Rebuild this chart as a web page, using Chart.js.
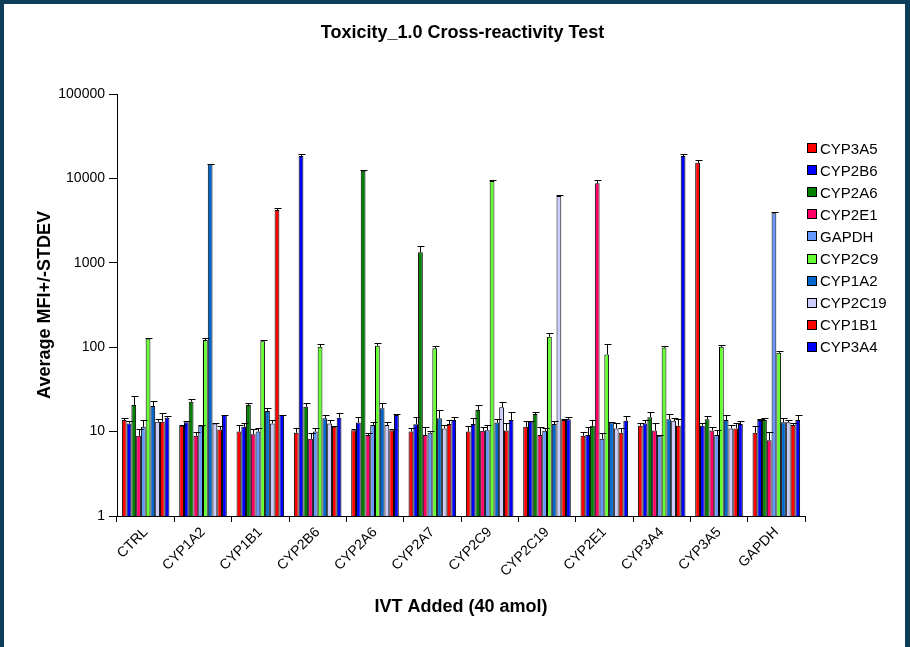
<!DOCTYPE html>
<html>
<head>
<meta charset="utf-8">
<script src="https://cdn.jsdelivr.net/npm/chart.js@4.4.1/dist/chart.umd.min.js"></script>
<style>
  body { margin: 0; background: #0e3d5a; }
  #panel { position: absolute; left: 4px; top: 4px; width: 901px; height: 643px; background: #fff; }
  #legend { position: absolute; left: 803px; top: 133px; font: 15px "Liberation Sans", Arial, sans-serif; color: #000; }
  .item { display: flex; align-items: center; height: 22.1px; }
  .box { width: 10px; height: 10px; box-sizing: border-box; border: 1px solid #000; margin-right: 3px; }
</style>
</head>
<body>
<div id="panel">
  <canvas id="chart" width="901" height="643"></canvas>
  <div id="legend"></div>
</div>
<script>
// categories (IVT added) and series (probes)
var categories = ['CTRL', 'CYP1A2', 'CYP1B1', 'CYP2B6', 'CYP2A6', 'CYP2A7', 'CYP2C9', 'CYP2C19', 'CYP2E1', 'CYP3A4', 'CYP3A5', 'GAPDH'];
var seriesNames = ['CYP3A5', 'CYP2B6', 'CYP2A6', 'CYP2E1', 'GAPDH', 'CYP2C9', 'CYP1A2', 'CYP2C19', 'CYP1B1', 'CYP3A4'];
var seriesColors = ['#ff0000', '#0000ff', '#008000', '#ff0066', '#6699ff', '#66ff33', '#0066cc', '#ccccff', '#ff0000', '#0000ff'];
var yTicks = [1, 10, 100, 1000, 10000, 100000];

// average MFI per series
var cyp3a5 = [13.7, 11.7, 10, 9.7, 10.4, 10, 10, 11.4, 8.9, 11.7, 15300, 9.7];
var cyp2b6 = [12.5, 12.9, 11.4, 18400, 12.8, 12.2, 12.3, 13.1, 9.1, 12.5, 11.7, 13.7];
var cyp2a6 = [20.7, 22.6, 20.7, 19.7, 12300, 1330, 18, 16.2, 11.7, 14.8, 14, 13.7];
var cyp2e1 = [8.9, 8.9, 9.3, 8.2, 9.1, 9.1, 10.2, 9.1, 8750, 10.3, 10.3, 7.9];
var gapdh = [11.4, 11.7, 10, 10, 12, 9.7, 10.4, 10.2, 8.2, 8.9, 9.1, 3860];
var cyp2c9 = [127, 122, 118, 101, 104, 97, 9300, 133, 82, 99, 101, 86];
var cyp1a2 = [20.1, 14700, 17.5, 14.4, 18.9, 14.4, 12.8, 12.3, 12.9, 14, 13.7, 12.9];
var cyp2c19 = [13.1, 12.5, 12.5, 12.5, 12, 10.9, 19.4, 6180, 10.9, 13.4, 10.9, 12.9];
var cyp1b1 = [13.1, 10.6, 4230, 11.4, 10.4, 12.3, 10.3, 13.7, 9.7, 11.7, 10.9, 12];
var cyp3a4 = [14.6, 15.7, 15.7, 14.6, 15.7, 13.7, 13.7, 14, 13.4, 18400, 12.3, 13.7];

// standard deviations
var cyp3a5Sd = [0.8, 0.3, 1.9, 1.3, 0.4, 1, 1.7, 2, 1.1, 0.9, 1200, 2];
var cyp2b6Sd = [1, 0.3, 1.2, 1100, 2.2, 2.8, 2.3, 0.4, 2.3, 1.2, 0.9, 0.5];
var cyp2a6Sd = [5.8, 1.7, 1.2, 2.2, 400, 250, 2.7, 1.1, 2, 2.1, 1.3, 0.9];
var cyp2e1Sd = [1.7, 1.1, 1.3, 1.5, 0.5, 2.3, 1, 2.3, 820, 2.3, 1.1, 2.1];
var gapdhSd = [2.3, 0.2, 0.9, 1, 1.1, 0.5, 1.5, 0.7, 1.5, 0.2, 1.3, 110];
var cyp2c9Sd = [2, 8, 3, 7, 7, 7, 200, 13, 26, 5, 6, 3];
var cyp1a2Sd = [2.9, 300, 1.3, 1.3, 3, 3.6, 1.2, 1, 0.2, 2.2, 2, 1.5];
var cyp2c19Sd = [0.9, 0.3, 1.2, 1.2, 1.1, 1, 2.8, 120, 1.6, 1.2, 1, 0.8];
var cyp1b1Sd = [3.6, 1.1, 240, 0.2, 0.4, 1.4, 2.5, 0.3, 1.2, 2.3, 1.6, 0.6];
var cyp3a4Sd = [0.7, 0.2, 0.2, 2.1, 0.5, 1.3, 3.6, 1, 1.9, 1100, 1.1, 2];

var seriesValues = [cyp3a5, cyp2b6, cyp2a6, cyp2e1, gapdh, cyp2c9, cyp1a2, cyp2c19, cyp1b1, cyp3a4];
var seriesSd = [cyp3a5Sd, cyp2b6Sd, cyp2a6Sd, cyp2e1Sd, gapdhSd, cyp2c9Sd, cyp1a2Sd, cyp2c19Sd, cyp1b1Sd, cyp3a4Sd];

Chart.defaults.font.family = '"Liberation Sans", Arial, sans-serif';
Chart.defaults.color = '#000';

// upper error bars (mean + stdev)
var errorBars = {
    id: 'errorBars',
    afterDatasetsDraw: function (chart) {
        var ctx = chart.ctx;
        var yScale = chart.scales.y;
        ctx.save();
        ctx.strokeStyle = '#000';
        ctx.lineWidth = 1;
        chart.data.datasets.forEach(function (ds, i) {
            chart.getDatasetMeta(i).data.forEach(function (bar, j) {
                var top = Math.round(yScale.getPixelForValue(ds.data[j] + ds.sd[j])) + 0.5;
                var x = Math.round(bar.x) + 0.5;
                ctx.beginPath();
                ctx.moveTo(x, bar.y);
                ctx.lineTo(x, top);
                ctx.moveTo(x - 3, top);
                ctx.lineTo(x + 4, top);
                ctx.stroke();
            });
        });
        ctx.restore();
    }
};

var datasets = seriesNames.map(function (name, i) {
    return {
        label: name,
        data: seriesValues[i],
        sd: seriesSd[i],
        backgroundColor: seriesColors[i],
        borderColor: '#000',
        borderWidth: 1,
        categoryPercentage: 0.83,
        barPercentage: 1.0
    };
});

new Chart(document.getElementById('chart'), {
    type: 'bar',
    data: { labels: categories, datasets: datasets },
    plugins: [errorBars],
    options: {
        responsive: false,
        animation: false,
        layout: { padding: { left: 16, right: 0, top: 0, bottom: 0 } },
        plugins: {
            legend: { display: false },
            tooltip: { enabled: false },
            title: {
                display: true,
                text: 'Toxicity_1.0 Cross-reactivity Test',
                color: '#000',
                font: { size: 18, weight: 'bold' },
                padding: { top: 18, bottom: 50.4 }
            }
        },
        scales: {
            x: {
                grid: { offset: true, drawOnChartArea: false, color: '#000', tickLength: 6 },
                border: { color: '#000' },
                ticks: { minRotation: 45, maxRotation: 45, font: { size: 14 }, padding: 2 },
                title: {
                    display: true,
                    text: 'IVT Added (40 amol)',
                    font: { size: 18, weight: 'bold' },
                    padding: { top: 0, bottom: 29 }
                },
                afterFit: function (s) { s.height = 131; }
            },
            y: {
                type: 'logarithmic',
                min: 1,
                max: 100000,
                afterBuildTicks: function (s) {
                    s.ticks = yTicks.map(function (v) { return { value: v }; });
                },
                ticks: {
                    font: { size: 14 },
                    padding: 4,
                    callback: function (v) { return String(v); }
                },
                grid: { drawOnChartArea: false, color: '#000', tickLength: 8 },
                border: { color: '#000' },
                title: {
                    display: true,
                    text: 'Average MFI+/-STDEV',
                    font: { size: 18, weight: 'bold' },
                    padding: { top: 14, bottom: 0 }
                },
                afterFit: function (s) { s.width = 97; }
            },
            // empty right-hand axis that reserves room for the legend
            legendSpace: {
                position: 'right',
                grid: { display: false },
                ticks: { display: false },
                border: { display: false },
                afterFit: function (s) { s.width = 100; }
            }
        }
    }
});

// legend
var legend = document.getElementById('legend');
seriesNames.forEach(function (name, i) {
    var row = document.createElement('div');
    row.className = 'item';
    var box = document.createElement('span');
    box.className = 'box';
    box.style.background = seriesColors[i];
    var txt = document.createElement('span');
    txt.textContent = name;
    row.appendChild(box);
    row.appendChild(txt);
    legend.appendChild(row);
});
</script>
</body>
</html>
